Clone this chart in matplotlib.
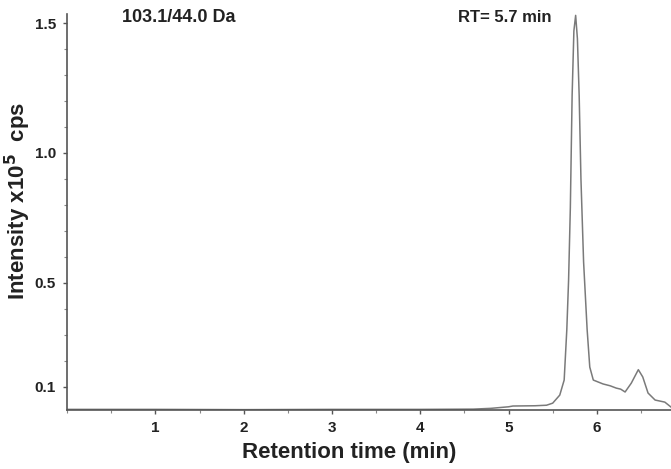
import matplotlib.pyplot as plt
from matplotlib.ticker import MultipleLocator

# Chromatogram trace (time in min, intensity x10^5 cps)
time = [0.0, 1.0, 2.0, 3.0, 4.0, 4.6, 4.8, 5.0, 5.05, 5.3, 5.43, 5.5, 5.58,
        5.63, 5.66, 5.68, 5.70, 5.72, 5.74, 5.76, 5.78, 5.80, 5.82, 5.85,
        5.89, 5.92, 5.96, 6.07, 6.15, 6.22, 6.27, 6.32, 6.39, 6.47, 6.52,
        6.58, 6.66, 6.77, 6.84]
intensity = [0.012, 0.012, 0.011, 0.012, 0.012, 0.013, 0.016, 0.022, 0.025,
             0.026, 0.028, 0.036, 0.067, 0.125, 0.32, 0.51, 0.79, 1.22, 1.47,
             1.53, 1.44, 1.22, 0.90, 0.58, 0.32, 0.175, 0.125, 0.11, 0.103,
             0.094, 0.090, 0.079, 0.113, 0.165, 0.137, 0.075, 0.048, 0.040,
             0.021]

y_ticks = [0.1, 0.5, 1.0, 1.5]
y_tick_labels = ['0.1', '0.5', '1.0', '1.5']
x_ticks = [1, 2, 3, 4, 5, 6]

plt.rcParams['font.family'] = ['Liberation Sans', 'DejaVu Sans']
plt.rcParams['font.weight'] = 'bold'

fig = plt.figure(figsize=(6.71, 4.69), dpi=100)
ax = fig.add_axes([0.1, 0.126, 0.9, 0.844])

ax.plot(time, intensity, color='#7a7a7a', linewidth=1.1)

ax.set_xlim(0, 6.84)
ax.set_ylim(0.01, 1.535)

for side in ['top', 'right']:
    ax.spines[side].set_visible(False)
for side in ['left', 'bottom']:
    ax.spines[side].set_color('#555555')
    ax.spines[side].set_linewidth(1.2)

ax.set_xticks(x_ticks)
ax.set_xticklabels([str(t) for t in x_ticks])
ax.set_yticks(y_ticks)
ax.set_yticklabels(y_tick_labels)
ax.xaxis.set_minor_locator(MultipleLocator(0.5))
ax.yaxis.set_minor_locator(MultipleLocator(0.1))
ax.tick_params(which='major', length=3, width=1, color='#555555',
               labelsize=11, pad=5, labelcolor='#222222')
ax.tick_params(which='minor', length=2, width=0.8, color='#888888')

fig.text(0.52, 0.035, 'Retention time (min)', fontsize=16, fontweight='bold',
         color='#222222', ha='center', va='center')
fig.text(0.027, 0.572, 'Intensity x10$^{\\mathbf{5}}$  cps', rotation=90,
         fontsize=16, fontweight='bold', color='#222222',
         ha='center', va='center')

fig.text(0.182, 0.962, '103.1/44.0 Da', fontsize=13, fontweight='bold',
         color='#222222', ha='left', va='center')
fig.text(0.683, 0.962, 'RT= 5.7 min', fontsize=12, fontweight='bold',
         color='#222222', ha='left', va='center')

fig.savefig('out.png', dpi=100)
